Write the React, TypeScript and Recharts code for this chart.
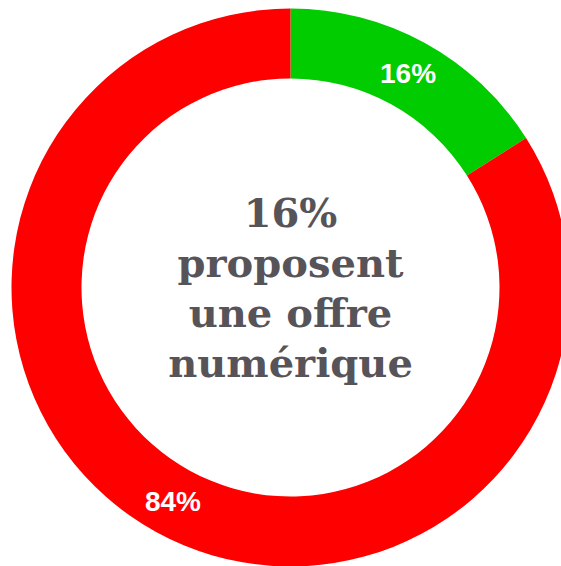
import { Cell, Label, Pie, PieChart } from 'recharts'

const CATEGORIES = ['Avec offre numérique', 'Sans offre numérique']
const VALUES = [16, 84]
const COLORS = ['#00cc00', '#ff0000']
const CENTER_LINES = ['16%', 'proposent', 'une offre', 'numérique']

const data = CATEGORIES.map((name, i) => ({ name, value: VALUES[i] }))

const RADIAN = Math.PI / 180
const CX = 290.5
const CY = 287.5

function sliceLabel(props: any) {
  const { cx, cy, midAngle, innerRadius, outerRadius, value } = props
  const r = (innerRadius + outerRadius) / 2
  const x = cx + r * Math.cos(-midAngle * RADIAN)
  const y = cy + r * Math.sin(-midAngle * RADIAN)
  return (
    <text
      x={x}
      y={y}
      fill="#ffffff"
      textAnchor="middle"
      dominantBaseline="central"
      fontFamily="'Liberation Sans', Arial, sans-serif"
      fontWeight="bold"
      fontSize={28}
    >
      {`${value}%`}
    </text>
  )
}

// the polar viewBox handed to Label doesn't carry the pie centre, so use ours
function centerLabel() {
  const lineHeight = 50
  const top = CY - ((CENTER_LINES.length - 1) * lineHeight) / 2
  return (
    <text
      textAnchor="middle"
      fill="#575459"
      fontFamily="'DejaVu Serif', Georgia, serif"
      fontWeight="bold"
      fontSize={40}
    >
      {CENTER_LINES.map((line, i) => (
        <tspan key={line} x={CX} y={top + i * lineHeight} dominantBaseline="central">
          {line}
        </tspan>
      ))}
    </text>
  )
}

export default function App() {
  return (
    <div
      style={{
        position: 'fixed',
        left: 0,
        top: 0,
        width: 561,
        height: 566,
        overflow: 'hidden',
        background: '#ffffff',
      }}
    >
      <PieChart width={561} height={566} margin={{ top: 0, right: 0, bottom: 0, left: 0 }}>
        <Pie
          data={data}
          dataKey="value"
          nameKey="name"
          cx={CX}
          cy={CY}
          innerRadius={209}
          outerRadius={279}
          startAngle={90}
          endAngle={-270}
          stroke="none"
          label={sliceLabel}
          labelLine={false}
          isAnimationActive={false}
        >
          {data.map((d, i) => (
            <Cell key={d.name} fill={COLORS[i]} />
          ))}
          <Label position="center" content={centerLabel} />
        </Pie>
      </PieChart>
    </div>
  )
}
